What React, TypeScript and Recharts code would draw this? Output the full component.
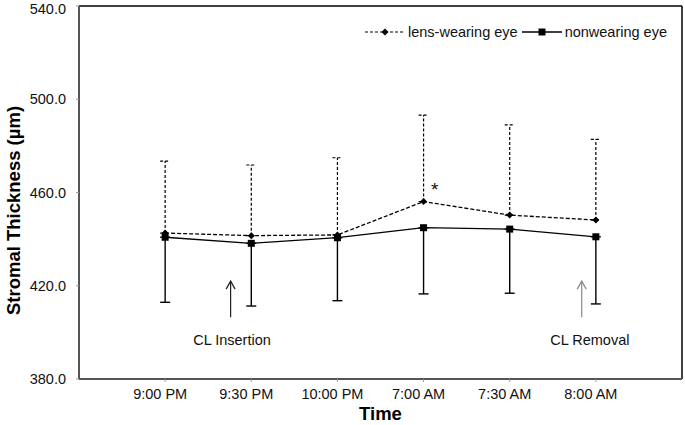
import {
  LineChart,
  Line,
  XAxis,
  YAxis,
  ErrorBar,
  Legend,
  Label,
  ReferenceLine,
  ReferenceDot,
} from 'recharts';

const FONT = '"Liberation Sans", Arial, sans-serif';

// Time points and means / SDs
const categories = ['9:00 PM', '9:30 PM', '10:00 PM', '7:00 AM', '7:30 AM', '8:00 AM'];
const lensMean = [442.6, 441.5, 441.8, 456.1, 450.3, 448.2];
const lensSD = [30.9, 30.3, 33.1, 37.1, 38.7, 34.6];
const nonMean = [440.8, 438.2, 440.6, 444.9, 444.3, 441.0];
const nonSD = [27.9, 26.9, 27.0, 28.4, 27.5, 28.8];
const yTicks = [380, 420, 460, 500, 540];

const chartData = categories.map((name, i) => ({
  pos: i + 1,
  name,
  lens: lensMean[i],
  lensErr: [0, lensSD[i]],
  non: nonMean[i],
  nonErr: [nonSD[i], 0],
}));

const Diamond = ({ cx, cy }: any) => {
  if (cx == null || cy == null) return null;
  return <path d={`M${cx} ${cy - 3.5} L${cx + 3.5} ${cy} L${cx} ${cy + 3.5} L${cx - 3.5} ${cy}Z`} fill="#000" />;
};

const Square = ({ cx, cy }: any) => {
  if (cx == null || cy == null) return null;
  return <rect x={cx - 3.5} y={cy - 3.5} width={7} height={7} fill="#000" />;
};

// arrow pointing up, drawn along a reference segment
const arrowShape = (color: string) => (props: any) => {
  const { x1, y1, y2 } = props;
  const top = Math.min(y1, y2);
  const bottom = Math.max(y1, y2);
  return (
    <g stroke={color} strokeWidth={1.2} fill="none">
      <line x1={x1} y1={top} x2={x1} y2={bottom} />
      <path d={`M${x1 - 4.5} ${top + 8} L${x1} ${top} L${x1 + 4.5} ${top + 8}`} />
    </g>
  );
};

const noteText = (text: string, size = 14.5) => (props: any) => {
  const { cx, cy } = props;
  return (
    <text x={cx} y={cy} textAnchor="middle" dominantBaseline="central" fontSize={size} fill="#111" fontFamily={FONT}>
      {text}
    </text>
  );
};

const YTitle = (props: any) => {
  const vb = props.viewBox || { x: 0, y: 0, height: 0 };
  const x = vb.x + 13;
  const y = vb.y + vb.height / 2 + 18;
  return (
    <text
      x={x}
      y={y}
      transform={`rotate(-90 ${x} ${y})`}
      textAnchor="middle"
      dominantBaseline="central"
      fontSize={18.5}
      fontWeight="bold"
      fill="#000"
      fontFamily={FONT}
    >
      Stromal Thickness (µm)
    </text>
  );
};

const renderLegend = () => (
  <div style={{ display: 'flex', alignItems: 'center', fontSize: 14.5, fontFamily: FONT, color: '#111', whiteSpace: 'nowrap' }}>
    <svg width={40} height={10}>
      <line x1={0} y1={5} x2={40} y2={5} stroke="#000" strokeWidth={1.2} strokeDasharray="3 2" />
      <path d="M20 1.5 L23.5 5 L20 8.5 L16.5 5Z" fill="#000" />
    </svg>
    <span style={{ marginLeft: 3 }}>lens-wearing eye</span>
    <svg width={40} height={10} style={{ marginLeft: 4 }}>
      <line x1={0} y1={5} x2={40} y2={5} stroke="#000" strokeWidth={1.3} />
      <rect x={16.5} y={1.5} width={7} height={7} fill="#000" />
    </svg>
    <span style={{ marginLeft: 3 }}>nonwearing eye</span>
  </div>
);

export default function App() {
  return (
    <div style={{ position: 'absolute', left: 0, top: 0, background: '#fff' }}>
      <LineChart width={685} height={425} data={chartData} margin={{ top: 6, right: 3, bottom: 0, left: 0 }}>
        <XAxis
          dataKey="pos"
          type="number"
          domain={[0, 7]}
          ticks={[1, 2, 3, 4, 5, 6]}
          tickFormatter={(v: number) => categories[v - 1] ?? ''}
          height={46}
          tickSize={3}
          tickMargin={7}
          dx={-5}
          tick={{ fill: '#111', fontSize: 14.5, fontFamily: FONT }}
          tickLine={{ stroke: '#999' }}
          axisLine={{ stroke: '#555', strokeWidth: 2 }}
        >
          <Label value="Time" position="insideBottom" offset={5} fontSize={18.5} fontWeight="bold" fill="#000" fontFamily={FONT} />
        </XAxis>
        <YAxis
          type="number"
          domain={[380, 540]}
          ticks={yTicks}
          tickFormatter={(v: number) => v.toFixed(1)}
          width={79}
          tickSize={3}
          tickMargin={10}
          tick={{ fill: '#111', fontSize: 14.5, fontFamily: FONT }}
          tickLine={{ stroke: '#999' }}
          axisLine={{ stroke: '#555', strokeWidth: 2 }}
        >
          <Label content={YTitle} />
        </YAxis>

        {/* plot frame top / right */}
        <ReferenceLine y={540} stroke="#000" strokeWidth={1.5} />
        <ReferenceLine x={7} stroke="#000" strokeWidth={1.5} />

        <Legend
          layout="horizontal"
          verticalAlign="middle"
          align="center"
          content={renderLegend}
          wrapperStyle={{ top: 24, left: 365, width: 320 }}
        />

        <Line
          dataKey="lens"
          stroke="#000"
          strokeWidth={1.3}
          strokeDasharray="4 2"
          dot={<Diamond />}
          activeDot={false}
          isAnimationActive={false}
        >
          <ErrorBar dataKey="lensErr" direction="y" width={5} stroke="#000" strokeWidth={1.2} strokeDasharray="3 2" />
        </Line>
        <Line
          dataKey="non"
          stroke="#000"
          strokeWidth={1.3}
          dot={<Square />}
          activeDot={false}
          isAnimationActive={false}
        >
          <ErrorBar dataKey="nonErr" direction="y" width={5} stroke="#000" strokeWidth={1.4} />
        </Line>

        {/* annotations */}
        <ReferenceLine segment={[{ x: 1.76, y: 422 }, { x: 1.76, y: 406.5 }]} shape={arrowShape('#222')} />
        <ReferenceLine segment={[{ x: 5.836, y: 422 }, { x: 5.836, y: 406.5 }]} shape={arrowShape('#888')} />
        <ReferenceDot x={1.776} y={396.7} r={0} shape={noteText('CL Insertion')} />
        <ReferenceDot x={5.93} y={396.7} r={0} shape={noteText('CL Removal')} />
        <ReferenceDot x={4.13} y={461.5} r={0} shape={noteText('*', 19)} />
      </LineChart>
    </div>
  );
}
